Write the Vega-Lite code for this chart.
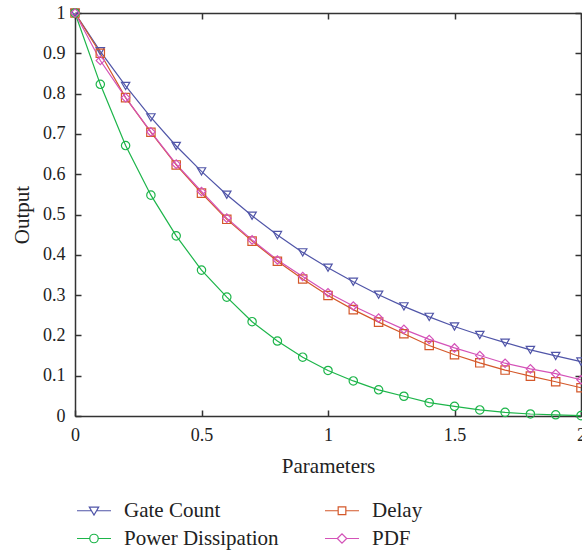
{
  "$schema": "https://vega.github.io/schema/vega-lite/v6.json",
  "width": 506,
  "height": 403,
  "autosize": {"type": "none"},
  "padding": {"left": 75, "top": 13, "right": 1, "bottom": 136},
  "config": {
    "view": {"stroke": null},
    "font": "Liberation Serif",
    "legend": {"labelFont": "Liberation Serif", "labelFontSize": 21, "labelColor": "#222222"},
    "axis": {
      "domainColor": "#333333",
      "domainWidth": 1.5,
      "tickColor": "#333333",
      "tickWidth": 1.5,
      "tickSize": -6,
      "labelFont": "Liberation Serif",
      "labelFontSize": 18,
      "labelColor": "#222222",
      "labelPadding": 16,
      "labelFlush": false,
      "labelOverlap": false,
      "titleFont": "Liberation Serif",
      "titleFontSize": 21,
      "titleFontWeight": "normal",
      "titleColor": "#222222",
      "grid": false
    }
  },
  "data": {
    "values": [
      {"x": 0, "y": 1, "s": "Gate Count"}, {"x": 0.1, "y": 0.905, "s": "Gate Count"}, {"x": 0.2, "y": 0.819, "s": "Gate Count"}, {"x": 0.3, "y": 0.741, "s": "Gate Count"}, {"x": 0.4, "y": 0.67, "s": "Gate Count"}, {"x": 0.5, "y": 0.607, "s": "Gate Count"}, {"x": 0.6, "y": 0.549, "s": "Gate Count"}, {"x": 0.7, "y": 0.497, "s": "Gate Count"}, {"x": 0.8, "y": 0.449, "s": "Gate Count"}, {"x": 0.9, "y": 0.406, "s": "Gate Count"}, {"x": 1.0, "y": 0.368, "s": "Gate Count"}, {"x": 1.1, "y": 0.333, "s": "Gate Count"}, {"x": 1.2, "y": 0.301, "s": "Gate Count"}, {"x": 1.3, "y": 0.272, "s": "Gate Count"}, {"x": 1.4, "y": 0.246, "s": "Gate Count"}, {"x": 1.5, "y": 0.222, "s": "Gate Count"}, {"x": 1.6, "y": 0.201, "s": "Gate Count"}, {"x": 1.7, "y": 0.182, "s": "Gate Count"}, {"x": 1.8, "y": 0.164, "s": "Gate Count"}, {"x": 1.9, "y": 0.149, "s": "Gate Count"}, {"x": 2.0, "y": 0.135, "s": "Gate Count"},
      {"x": 0, "y": 1, "s": "Delay"}, {"x": 0.1, "y": 0.9, "s": "Delay"}, {"x": 0.2, "y": 0.79, "s": "Delay"}, {"x": 0.3, "y": 0.704, "s": "Delay"}, {"x": 0.4, "y": 0.623, "s": "Delay"}, {"x": 0.5, "y": 0.553, "s": "Delay"}, {"x": 0.6, "y": 0.488, "s": "Delay"}, {"x": 0.7, "y": 0.434, "s": "Delay"}, {"x": 0.8, "y": 0.384, "s": "Delay"}, {"x": 0.9, "y": 0.34, "s": "Delay"}, {"x": 1.0, "y": 0.299, "s": "Delay"}, {"x": 1.1, "y": 0.264, "s": "Delay"}, {"x": 1.2, "y": 0.233, "s": "Delay"}, {"x": 1.3, "y": 0.204, "s": "Delay"}, {"x": 1.4, "y": 0.175, "s": "Delay"}, {"x": 1.5, "y": 0.152, "s": "Delay"}, {"x": 1.6, "y": 0.132, "s": "Delay"}, {"x": 1.7, "y": 0.114, "s": "Delay"}, {"x": 1.8, "y": 0.099, "s": "Delay"}, {"x": 1.9, "y": 0.085, "s": "Delay"}, {"x": 2.0, "y": 0.07, "s": "Delay"},
      {"x": 0, "y": 1, "s": "Power Dissipation"}, {"x": 0.1, "y": 0.823, "s": "Power Dissipation"}, {"x": 0.2, "y": 0.671, "s": "Power Dissipation"}, {"x": 0.3, "y": 0.548, "s": "Power Dissipation"}, {"x": 0.4, "y": 0.447, "s": "Power Dissipation"}, {"x": 0.5, "y": 0.362, "s": "Power Dissipation"}, {"x": 0.6, "y": 0.295, "s": "Power Dissipation"}, {"x": 0.7, "y": 0.234, "s": "Power Dissipation"}, {"x": 0.8, "y": 0.186, "s": "Power Dissipation"}, {"x": 0.9, "y": 0.146, "s": "Power Dissipation"}, {"x": 1.0, "y": 0.113, "s": "Power Dissipation"}, {"x": 1.1, "y": 0.087, "s": "Power Dissipation"}, {"x": 1.2, "y": 0.065, "s": "Power Dissipation"}, {"x": 1.3, "y": 0.049, "s": "Power Dissipation"}, {"x": 1.4, "y": 0.033, "s": "Power Dissipation"}, {"x": 1.5, "y": 0.024, "s": "Power Dissipation"}, {"x": 1.6, "y": 0.015, "s": "Power Dissipation"}, {"x": 1.7, "y": 0.009, "s": "Power Dissipation"}, {"x": 1.8, "y": 0.005, "s": "Power Dissipation"}, {"x": 1.9, "y": 0.003, "s": "Power Dissipation"}, {"x": 2.0, "y": 0.001, "s": "Power Dissipation"},
      {"x": 0, "y": 1, "s": "PDF"}, {"x": 0.1, "y": 0.882, "s": "PDF"}, {"x": 0.2, "y": 0.79, "s": "PDF"}, {"x": 0.3, "y": 0.705, "s": "PDF"}, {"x": 0.4, "y": 0.625, "s": "PDF"}, {"x": 0.5, "y": 0.557, "s": "PDF"}, {"x": 0.6, "y": 0.491, "s": "PDF"}, {"x": 0.7, "y": 0.437, "s": "PDF"}, {"x": 0.8, "y": 0.387, "s": "PDF"}, {"x": 0.9, "y": 0.346, "s": "PDF"}, {"x": 1.0, "y": 0.306, "s": "PDF"}, {"x": 1.1, "y": 0.273, "s": "PDF"}, {"x": 1.2, "y": 0.243, "s": "PDF"}, {"x": 1.3, "y": 0.215, "s": "PDF"}, {"x": 1.4, "y": 0.19, "s": "PDF"}, {"x": 1.5, "y": 0.169, "s": "PDF"}, {"x": 1.6, "y": 0.15, "s": "PDF"}, {"x": 1.7, "y": 0.131, "s": "PDF"}, {"x": 1.8, "y": 0.117, "s": "PDF"}, {"x": 1.9, "y": 0.105, "s": "PDF"}, {"x": 2.0, "y": 0.09, "s": "PDF"}
    ]
  },
  "layer": [
    {
      "mark": {"type": "line", "strokeWidth": 1.2},
      "encoding": {
        "x": {"field": "x", "type": "quantitative", "scale": {"domain": [0, 2]},
              "axis": {"orient": "bottom", "values": [0, 0.5, 1, 1.5, 2], "format": "~g", "title": "Parameters", "titlePadding": 11}},
        "y": {"field": "y", "type": "quantitative", "scale": {"domain": [0, 1]},
              "axis": {"orient": "left", "values": [0, 0.1, 0.2, 0.3, 0.4, 0.5, 0.6, 0.7, 0.8, 0.9, 1], "format": "~g", "title": "Output", "titlePadding": 10}},
        "color": {"field": "s", "type": "nominal",
                  "scale": {"domain": ["Gate Count", "Delay", "Power Dissipation", "PDF"], "range": ["#5055a8", "#d4582a", "#1db54a", "#d452b8"]},
                  "legend": null}
      }
    },
    {
      "mark": {"type": "point", "filled": false, "size": 70, "strokeWidth": 1.2, "opacity": 1},
      "encoding": {
        "x": {"field": "x", "type": "quantitative", "scale": {"domain": [0, 2]}, "axis": null},
        "y": {"field": "y", "type": "quantitative", "scale": {"domain": [0, 1]}, "axis": null},
        "color": {"field": "s", "type": "nominal",
                  "scale": {"domain": ["Gate Count", "Delay", "Power Dissipation", "PDF"], "range": ["#5055a8", "#d4582a", "#1db54a", "#d452b8"]},
                  "legend": null},
        "shape": {"field": "s", "type": "nominal",
                  "scale": {"domain": ["Gate Count", "Delay", "Power Dissipation", "PDF"], "range": ["triangle-down", "square", "circle", "diamond"]},
                  "legend": null}
      }
    },
    {
      "data": {"values": [
        {"x": 3, "y": 0.5, "s": "Gate Count"},
        {"x": 3, "y": 0.5, "s": "Delay"},
        {"x": 3, "y": 0.5, "s": "Power Dissipation"},
        {"x": 3, "y": 0.5, "s": "PDF"}
      ]},
      "mark": {"type": "point", "filled": false, "clip": true, "size": 289, "strokeWidth": 1.2, "opacity": 1},
      "encoding": {
        "x": {"field": "x", "type": "quantitative", "scale": {"domain": [0, 2]},
              "axis": {"orient": "top", "values": [0, 0.5, 1, 1.5, 2], "labels": false, "title": null}},
        "y": {"field": "y", "type": "quantitative", "scale": {"domain": [0, 1]},
              "axis": {"orient": "right", "values": [0, 0.1, 0.2, 0.3, 0.4, 0.5, 0.6, 0.7, 0.8, 0.9, 1], "labels": false, "title": null}},
        "color": {"field": "s", "type": "nominal",
                  "scale": {"domain": ["Gate Count", "Delay", "Power Dissipation", "PDF"], "range": ["#5055a8", "#d4582a", "#1db54a", "#d452b8"]},
                  "legend": {"orient": "bottom", "columns": 2, "title": null, "labelFont": "Liberation Serif", "labelFontSize": 21, "labelColor": "#222222", "symbolSize": 289, "symbolStrokeWidth": 1.2, "labelOffset": 28, "columnPadding": 43, "rowPadding": 6, "offset": 24}},
        "shape": {"field": "s", "type": "nominal",
                  "scale": {"domain": ["Gate Count", "Delay", "Power Dissipation", "PDF"],
                            "range": [
                              "M-1,0H0.7M1.3,0H3M0.45,-0.42H1.55L1,0.5Z",
                              "M-1,0H0.55M1.45,0H3M0.55,-0.45H1.45V0.45H0.55Z",
                              "M-1,0H0.5M1.5,0H3M0.5,0A0.5,0.5,0,1,0,1.5,0A0.5,0.5,0,1,0,0.5,0Z",
                              "M-1,0H0.45M1.55,0H3M0.45,0L1,-0.55L1.55,0L1,0.55Z"
                            ]},
                  "legend": {"orient": "bottom", "columns": 2, "title": null, "labelFont": "Liberation Serif", "labelFontSize": 21, "labelColor": "#222222", "symbolSize": 289, "symbolStrokeWidth": 1.2, "labelOffset": 28, "columnPadding": 43, "rowPadding": 6, "offset": 24}}
      }
    }
  ],
  "resolve": {
    "scale": {"color": "independent", "shape": "independent"},
    "axis": {"x": "independent", "y": "independent"}
  }
}
